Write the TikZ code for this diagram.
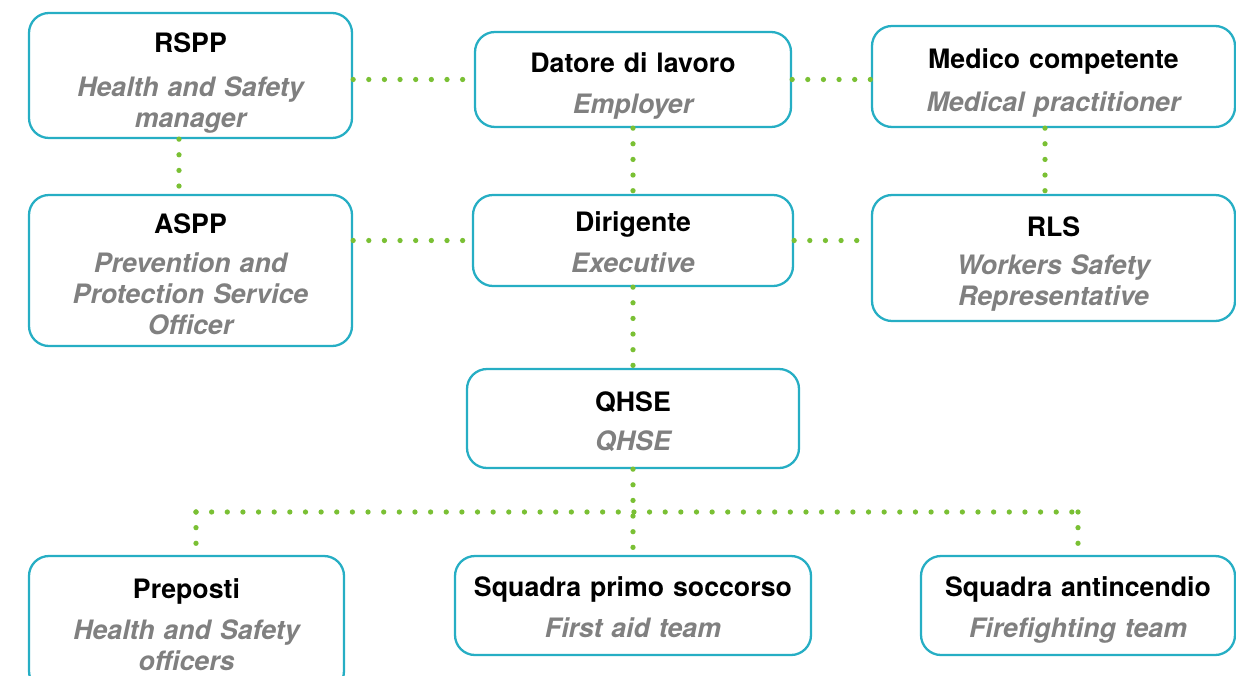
\documentclass[tikz,border=0pt]{standalone}
\usepackage{fontspec}
\setmainfont{TeX Gyre Heros}
\usetikzlibrary{calc}

\definecolor{boxcol}{RGB}{38,174,196}
\definecolor{dotcol}{RGB}{122,192,52}
\definecolor{subcol}{RGB}{128,128,128}

\tikzset{
	role/.style={draw=boxcol, line width=1.3pt, rounded corners=0.4cm, fill=white, inner sep=0pt},
	txt/.style={anchor=north, align=center, text width=7cm, inner sep=0pt, font=\fontsize{15.2}{17.6}\selectfont\bfseries},
	link/.style={dotcol, line width=3pt, line cap=round, dash pattern=on 0pt off 8.9pt}
}
\newcommand{\subtxt}[1]{{\color{subcol}\itshape #1}}

\begin{document}
\begin{tikzpicture}
	\useasboundingbox (0,0) rectangle (24.72,13.5);

	\node[role, minimum width=6.46cm, minimum height=2.5cm] (rspp) at (3.81,11.99) {};
	\node[role, minimum width=6.32cm, minimum height=1.9cm] (datore) at (12.66,11.91) {};
	\node[role, minimum width=7.26cm, minimum height=2.02cm] (medico) at (21.07,11.97) {};
	\node[role, minimum width=6.46cm, minimum height=3.02cm] (aspp) at (3.81,8.09) {};
	\node[role, minimum width=6.4cm, minimum height=1.82cm] (dirigente) at (12.66,8.69) {};
	\node[role, minimum width=7.26cm, minimum height=2.52cm] (rls) at (21.07,8.34) {};
	\node[role, minimum width=6.64cm, minimum height=1.98cm] (qhse) at (12.66,5.13) {};
	\node[role, minimum width=6.3cm, minimum height=2.7cm] (preposti) at (3.73,1.03) {};
	\node[role, minimum width=7.12cm, minimum height=1.98cm] (soccorso) at (12.66,1.39) {};
	\node[role, minimum width=6.28cm, minimum height=1.98cm] (antincendio) at (21.56,1.39) {};

	\node[txt] (rspp-txt) at ([yshift=-0.42cm]rspp.north) {RSPP\\[7pt]\subtxt{Health and Safety\\manager}};
	\node[txt] (datore-txt) at ([yshift=-0.42cm]datore.north) {Datore di lavoro\\[6pt]\subtxt{Employer}};
	\node[txt] (medico-txt) at ([yshift=-0.46cm]medico.north) {Medico competente\\[7pt]\subtxt{Medical practitioner}};
	\node[txt] (aspp-txt) at ([yshift=-0.38cm]aspp.north) {ASPP\\[5pt]\subtxt{Prevention and\\Protection Service\\Officer}};
	\node[txt] (dirigente-txt) at ([yshift=-0.34cm]dirigente.north) {Dirigente\\[6pt]\subtxt{Executive}};
	\node[txt] (rls-txt) at ([yshift=-0.45cm]rls.north) {RLS\\[4pt]\subtxt{Workers Safety\\Representative}};
	\node[txt] (qhse-txt) at ([yshift=-0.46cm]qhse.north) {QHSE\\[5pt]\subtxt{QHSE}};
	\node[txt] (preposti-txt) at ([yshift=-0.46cm]preposti.north) {Preposti\\[6pt]\subtxt{Health and Safety\\officers}};
	\node[txt] (soccorso-txt) at ([yshift=-0.42cm]soccorso.north) {Squadra primo soccorso\\[6pt]\subtxt{First aid team}};
	\node[txt] (antincendio-txt) at ([yshift=-0.42cm]antincendio.north) {Squadra antincendio\\[6pt]\subtxt{Firefighting team}};

	\draw[link] (rspp.east |- datore) -- (datore.west);
	\draw[link] (datore.east) -- (medico.west |- datore);
	\draw[link] ([xshift=-0.23cm]rspp.south) -- ([xshift=-0.23cm]aspp.north);
	\draw[link] (datore.south) -- (dirigente.north);
	\draw[link] ([xshift=-0.17cm]medico.south) -- ([xshift=-0.17cm]rls.north);
	\draw[link] (aspp.east |- dirigente) -- (dirigente.west);
	\draw[link] (dirigente.east) -- (rls.west |- dirigente);
	\draw[link] (dirigente.south) -- (qhse.north);
	\draw[link] (qhse.south) -- (soccorso.north);

	\coordinate (bus) at ($(qhse.south)!0.5!(soccorso.north)$);
	\draw[link] ($(preposti.north |- bus)+(0.19,0)$) -- (antincendio.north |- bus);
	\draw[link] ($(preposti.north |- bus)+(0.19,0)$) -- ($(preposti.north)+(0.19,0)$);
	\draw[link] (antincendio.north |- bus) -- (antincendio.north);
\end{tikzpicture}
\end{document}
